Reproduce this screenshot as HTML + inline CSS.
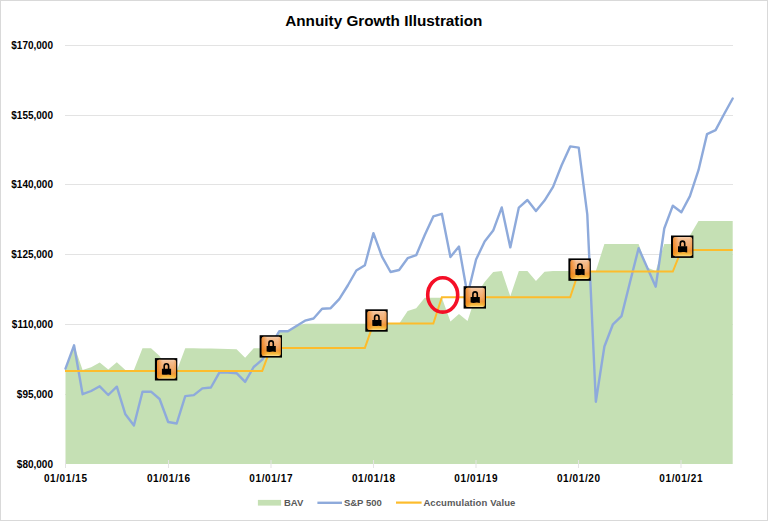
<!DOCTYPE html>
<html><head><meta charset="utf-8"><title>Annuity Growth Illustration</title>
<style>
html,body{margin:0;padding:0;background:#fff;}
body{width:768px;height:522px;overflow:hidden;}
svg{display:block;}
text{font-family:"Liberation Sans",sans-serif;}
</style></head><body>
<svg width="768" height="522" viewBox="0 0 768 522">
<defs>
<linearGradient id="lg" x1="0" y1="0" x2="0" y2="1">
<stop offset="0" stop-color="#f7cfae"/>
<stop offset="0.12" stop-color="#f4bd8f"/>
<stop offset="0.5" stop-color="#f2ab6c"/>
<stop offset="0.72" stop-color="#f19a3e"/>
<stop offset="0.86" stop-color="#f5b437"/>
<stop offset="0.95" stop-color="#f8cc5c"/>
<stop offset="1" stop-color="#f9dca0"/>
</linearGradient>
<linearGradient id="lgx" x1="0" y1="0" x2="1" y2="0">
<stop offset="0" stop-color="#f07d10" stop-opacity="0.75"/>
<stop offset="0.3" stop-color="#f07d10" stop-opacity="0"/>
<stop offset="0.85" stop-color="#f07d10" stop-opacity="0"/>
<stop offset="1" stop-color="#f07d10" stop-opacity="0.35"/>
</linearGradient>
<g id="lock">
<rect x="0" y="0" width="22.4" height="22.4" fill="#000"/>
<rect x="2.1" y="1.6" width="19.1" height="19.1" rx="2" ry="2" fill="url(#lg)"/>
<rect x="2.1" y="1.6" width="19.1" height="19.1" rx="2" ry="2" fill="url(#lgx)"/>
<path d="M9.3,11 V8.1 A2.2,2.45 0 0 1 13.7,8.1 V11" fill="none" stroke="#000" stroke-width="1.6"/>
<path d="M7.0,10.7 H16.2 V16.9 Q13.8,16.1 11.6,16.6 Q9.3,17.0 7.0,16.4 Z" fill="#000"/>
</g>
</defs>
<rect x="0.5" y="0.5" width="767" height="520" fill="#fff" stroke="#d9d9d9" stroke-width="1"/>
<text x="383.8" y="26" font-size="15.3" font-weight="bold" text-anchor="middle" fill="#000">Annuity Growth Illustration</text>
<line x1="65" y1="45.5" x2="733" y2="45.5" stroke="#e3e3e3" stroke-width="1"/>
<text x="53" y="49.0" font-size="10" font-weight="bold" text-anchor="end" fill="#000">$170,000</text>
<line x1="65" y1="115.5" x2="733" y2="115.5" stroke="#e3e3e3" stroke-width="1"/>
<text x="53" y="119.0" font-size="10" font-weight="bold" text-anchor="end" fill="#000">$155,000</text>
<line x1="65" y1="184.5" x2="733" y2="184.5" stroke="#e3e3e3" stroke-width="1"/>
<text x="53" y="188.0" font-size="10" font-weight="bold" text-anchor="end" fill="#000">$140,000</text>
<line x1="65" y1="254.5" x2="733" y2="254.5" stroke="#e3e3e3" stroke-width="1"/>
<text x="53" y="258.0" font-size="10" font-weight="bold" text-anchor="end" fill="#000">$125,000</text>
<line x1="65" y1="324.5" x2="733" y2="324.5" stroke="#e3e3e3" stroke-width="1"/>
<text x="53" y="328.0" font-size="10" font-weight="bold" text-anchor="end" fill="#000">$110,000</text>
<line x1="65" y1="394.5" x2="733" y2="394.5" stroke="#e3e3e3" stroke-width="1"/>
<text x="53" y="398.0" font-size="10" font-weight="bold" text-anchor="end" fill="#000">$95,000</text>
<text x="53" y="467.5" font-size="10" font-weight="bold" text-anchor="end" fill="#000">$80,000</text>
<polygon points="65.50,464 65.50,368.70 74.05,345.30 82.61,370.00 91.16,367.30 99.72,362.40 108.27,369.50 116.82,362.30 125.38,370.00 133.93,370.00 142.48,348.20 151.04,348.20 159.59,356.00 168.15,371.00 176.70,371.00 185.25,348.20 193.81,348.20 202.36,348.40 210.92,348.60 219.47,348.80 228.02,349.00 236.58,349.30 245.13,357.70 253.68,348.20 262.24,348.20 270.79,345.50 279.35,331.20 287.90,331.30 296.45,326.00 305.01,323.80 313.56,323.80 322.12,323.80 330.67,323.80 339.22,323.80 347.78,323.80 356.33,323.80 364.88,323.80 373.44,323.80 381.99,323.80 390.55,323.80 399.10,323.80 407.65,311.00 416.21,308.20 424.76,297.80 433.32,297.80 441.87,297.80 450.42,321.50 458.98,314.10 467.53,321.00 476.08,295.00 484.64,282.00 493.19,272.00 501.75,271.10 510.30,296.30 518.85,271.10 527.41,271.10 535.96,281.10 544.52,271.70 553.07,271.10 561.62,271.10 570.18,271.10 578.73,271.10 587.28,271.10 595.84,271.00 604.39,244.10 612.95,244.10 621.50,244.10 630.05,244.10 638.61,244.10 647.16,267.50 655.72,271.00 664.27,244.00 672.82,244.00 681.38,244.00 689.93,235.50 698.48,221.00 707.04,221.00 715.59,221.00 724.15,221.00 732.70,221.00 732.70,464" fill="#c5e0b4"/>
<line x1="65.5" y1="460" x2="65.5" y2="468" stroke="#e3e3e3" stroke-width="1"/>
<text x="65.8" y="482" font-size="10" font-weight="bold" text-anchor="middle" letter-spacing="0.6" fill="#000">01/01/15</text>
<line x1="168.5" y1="460" x2="168.5" y2="468" stroke="#e3e3e3" stroke-width="1"/>
<text x="168.8" y="482" font-size="10" font-weight="bold" text-anchor="middle" letter-spacing="0.6" fill="#000">01/01/16</text>
<line x1="271.0" y1="460" x2="271.0" y2="468" stroke="#e3e3e3" stroke-width="1"/>
<text x="271.2" y="482" font-size="10" font-weight="bold" text-anchor="middle" letter-spacing="0.6" fill="#000">01/01/17</text>
<line x1="373.5" y1="460" x2="373.5" y2="468" stroke="#e3e3e3" stroke-width="1"/>
<text x="373.8" y="482" font-size="10" font-weight="bold" text-anchor="middle" letter-spacing="0.6" fill="#000">01/01/18</text>
<line x1="476.0" y1="460" x2="476.0" y2="468" stroke="#e3e3e3" stroke-width="1"/>
<text x="476.2" y="482" font-size="10" font-weight="bold" text-anchor="middle" letter-spacing="0.6" fill="#000">01/01/19</text>
<line x1="578.5" y1="460" x2="578.5" y2="468" stroke="#e3e3e3" stroke-width="1"/>
<text x="578.8" y="482" font-size="10" font-weight="bold" text-anchor="middle" letter-spacing="0.6" fill="#000">01/01/20</text>
<line x1="681.0" y1="460" x2="681.0" y2="468" stroke="#e3e3e3" stroke-width="1"/>
<text x="681.2" y="482" font-size="10" font-weight="bold" text-anchor="middle" letter-spacing="0.6" fill="#000">01/01/21</text>
<polyline points="65.50,368.70 74.05,345.30 82.61,394.20 91.16,391.00 99.72,386.30 108.27,395.00 116.82,386.70 125.38,414.30 133.93,425.50 142.48,391.70 151.04,391.70 159.59,399.00 168.15,422.00 176.70,423.50 185.25,396.10 193.81,395.10 202.36,388.40 210.92,387.50 219.47,372.40 228.02,372.50 236.58,373.20 245.13,381.90 253.68,367.00 262.24,359.70 270.79,345.50 279.35,331.20 287.90,331.30 296.45,326.00 305.01,320.70 313.56,318.50 322.12,308.70 330.67,308.20 339.22,299.20 347.78,285.50 356.33,270.50 364.88,265.30 373.44,233.10 381.99,256.60 390.55,272.00 399.10,270.00 407.65,258.20 416.21,255.20 424.76,235.00 433.32,216.40 441.87,213.80 450.42,257.00 458.98,246.60 467.53,295.00 476.08,259.50 484.64,241.50 493.19,230.60 501.75,207.40 510.30,247.40 518.85,207.60 527.41,200.00 535.96,211.10 544.52,200.60 553.07,186.90 561.62,165.20 570.18,146.40 578.73,147.60 587.28,214.30 595.84,401.70 604.39,346.50 612.95,324.30 621.50,316.20 630.05,282.00 638.61,248.20 647.16,267.60 655.72,286.70 664.27,228.50 672.82,205.70 681.38,212.20 689.93,196.10 698.48,170.20 707.04,134.10 715.59,130.10 724.15,114.00 732.70,98.50" fill="none" stroke="#8eaadb" stroke-width="2.4" stroke-linejoin="round" stroke-linecap="round"/>
<polyline points="65,370.9 65.50,370.90 74.05,370.90 82.61,370.90 91.16,370.90 99.72,370.90 108.27,370.90 116.82,370.90 125.38,370.90 133.93,370.90 142.48,370.90 151.04,370.90 159.59,370.90 168.15,370.90 176.70,370.90 185.25,370.90 193.81,370.90 202.36,370.90 210.92,370.90 219.47,370.90 228.02,370.90 236.58,370.90 245.13,370.90 253.68,370.90 262.24,370.90 270.79,347.90 279.35,347.90 287.90,347.90 296.45,347.90 305.01,347.90 313.56,347.90 322.12,347.90 330.67,347.90 339.22,347.90 347.78,347.90 356.33,347.90 364.88,347.90 373.44,323.60 381.99,323.60 390.55,323.60 399.10,323.60 407.65,323.60 416.21,323.60 424.76,323.60 433.32,323.60 441.87,297.20 450.42,297.20 458.98,297.20 467.53,297.20 476.08,297.20 484.64,297.20 493.19,297.20 501.75,297.20 510.30,297.20 518.85,297.20 527.41,297.20 535.96,297.20 544.52,297.20 553.07,297.20 561.62,297.20 570.18,297.20 578.73,271.50 587.28,271.50 595.84,271.50 604.39,271.50 612.95,271.50 621.50,271.50 630.05,271.50 638.61,271.50 647.16,271.50 655.72,271.50 664.27,271.50 672.82,271.50 681.38,250.10 689.93,250.10 698.48,250.10 707.04,250.10 715.59,250.10 724.15,250.10 732.70,250.10" fill="none" stroke="#fdbc2c" stroke-width="2.0" stroke-linejoin="miter"/>
<use href="#lock" x="154.90" y="358.10"/>
<use href="#lock" x="259.60" y="335.20"/>
<use href="#lock" x="365.30" y="309.30"/>
<use href="#lock" x="463.60" y="286.20"/>
<use href="#lock" x="568.40" y="258.40"/>
<use href="#lock" x="671.00" y="235.50"/>
<ellipse cx="442.7" cy="294.9" rx="15" ry="17.2" fill="none" stroke="#f50f27" stroke-width="3.6"/>
<rect x="257.9" y="499.9" width="23.2" height="5.7" fill="#c5e0b4"/>
<text x="284" y="505.6" font-size="9.5" font-weight="bold" fill="#595959">BAV</text>
<line x1="317.4" y1="502.8" x2="342" y2="502.8" stroke="#8eaadb" stroke-width="2.4"/>
<text x="343.9" y="505.6" font-size="9.5" font-weight="bold" fill="#595959">S&amp;P 500</text>
<line x1="396" y1="502.6" x2="421.6" y2="502.6" stroke="#fdbc2c" stroke-width="2.2"/>
<text x="423.4" y="505.6" font-size="9.5" font-weight="bold" letter-spacing="0.1" fill="#595959">Accumulation Value</text>
</svg>
</body></html>
